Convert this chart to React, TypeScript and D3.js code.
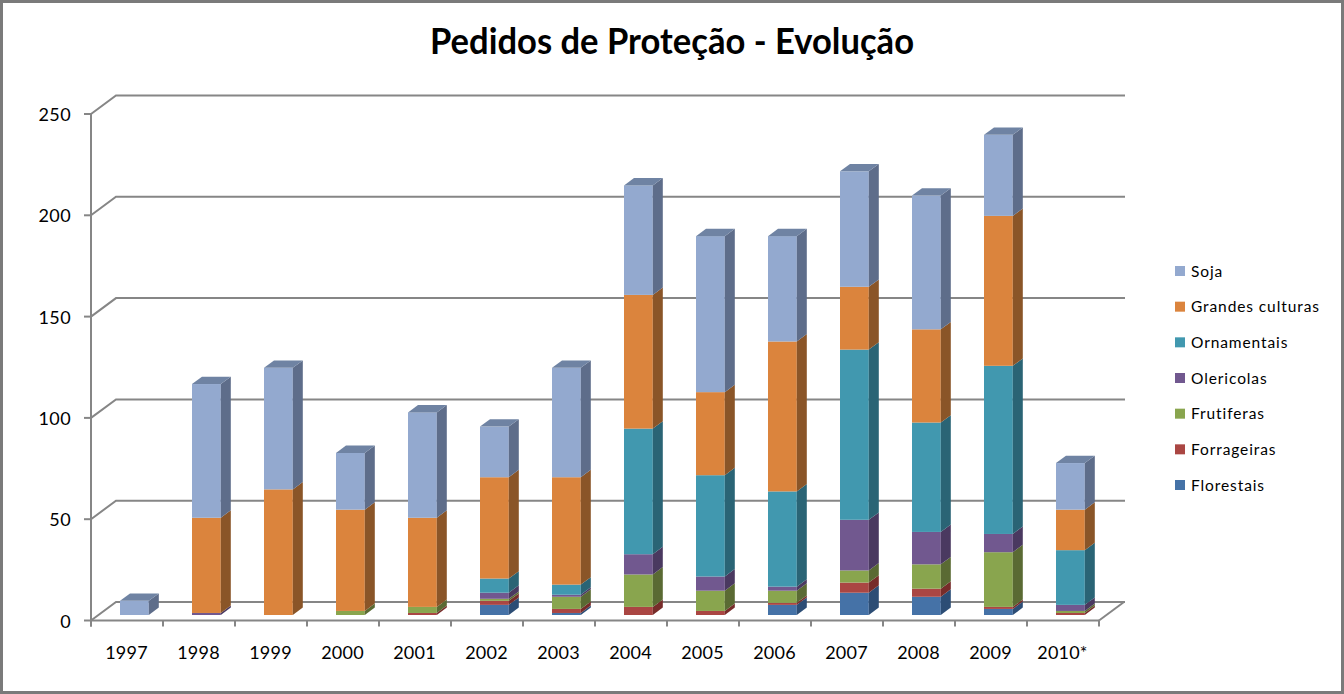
import React from "react";
import * as d3 from "d3";

const categories = ["1997","1998","1999","2000","2001","2002","2003","2004","2005","2006","2007","2008","2009","2010*"];
const seriesNames = ["Florestais","Forrageiras","Frutiferas","Olericolas","Ornamentais","Grandes culturas","Soja"];
const florestais  = [0,0,0,0,0,5,1,0,0,5,11,9,3,0];
const forrageiras = [0,0,0,0,1,2,2,4,2,1,5,4,1,1];
const frutiferas  = [0,0,0,2,3,1,6,16,10,6,6,12,27,1];
const olericolas  = [0,1,0,0,0,3,1,10,7,2,25,16,9,3];
const ornamentais = [0,0,0,0,0,7,5,62,50,47,84,54,83,27];
const grandes     = [0,47,62,50,44,50,53,66,41,74,31,46,74,20];
const soja        = [7,66,60,28,52,25,54,54,77,52,57,66,40,23];
const seriesValues = [florestais,forrageiras,frutiferas,olericolas,ornamentais,grandes,soja];
const frontColors = ["#4572A7","#AA4643","#89A54E","#71588F","#4198AF","#DB843D","#93A9CF"];
const sideColors  = ["#2C4D75","#772C2A","#5A6A33","#4A3960","#2A6475","#8A5528","#5E6D8A"];
const topColors   = ["#3A5F8C","#8E3B38","#738A42","#5F4A78","#37808F","#B86F33","#6F83A3"];
const yTicks = [0,50,100,150,200,250];
const font = "Lato, 'Open Sans', sans-serif";
const gridColor = "#868686";

export default function App() {
  const W = 1344, H = 694;
  const axisFront = d3.scaleLinear().domain([0,250]).range([620.5,114]);
  const wallDX = 25, wallDY = -18.5;
  const x0 = 91, x1 = 1099;
  const tickX = d3.scalePoint<number>().domain(d3.range(15)).range([x0,x1]);
  const slot = d3.scaleBand().domain(categories).range([x0,x1]);
  const bar = d3.scaleBand().domain(categories).range([x0+7.4,x1+7.4]).paddingInner(0.6).paddingOuter(0.3);
  const y = d3.scaleLinear().domain([0,250]).range([615,108.5]);
  const dx = 10, dy = -7.4;
  const stackGen = d3.stack<number>().keys(d3.range(7).map(String)).value((i,k)=>seriesValues[+k][i]);
  const stacked = stackGen(d3.range(categories.length));
  const poly = d3.line();
  const legendY = d3.scalePoint<string>().domain([...seriesNames].reverse()).range([271,485]);

  return (
    <svg width={W} height={H} style={{position:"absolute",left:0,top:0,background:"#fff",fontFamily:font}}>
      <rect x={1.5} y={1.5} width={W-3} height={H-3} fill="#fff" stroke="#7a7a7a" strokeWidth={3}/>
      <text x={672} y={54} textAnchor="middle" fontSize={36} fontWeight={700} fill="#000" textLength={484} lengthAdjust="spacingAndGlyphs">Pedidos de Proteção - Evolução</text>
      <g stroke={gridColor} strokeWidth={2} fill="none">
        {yTicks.map(t => (
          <g key={t}>
            <path d={poly([[x0,axisFront(t)],[x0+wallDX,axisFront(t)+wallDY],[x1+wallDX+1,axisFront(t)+wallDY]])!}/>
            <line x1={x0-7} x2={x0} y1={axisFront(t)} y2={axisFront(t)}/>
          </g>
        ))}
        <line x1={x0} x2={x0} y1={axisFront(250)} y2={axisFront(0)+6}/>
        <line x1={x0} x2={x1} y1={axisFront(0)} y2={axisFront(0)}/>
        <line x1={x1} x2={x1+wallDX} y1={axisFront(0)} y2={axisFront(0)+wallDY}/>
        {tickX.domain().map(i => (
          <line key={i} x1={tickX(i)} x2={tickX(i)} y1={axisFront(0)} y2={axisFront(0)+6}/>
        ))}
      </g>
      {categories.map((c,ci) => {
        const bx = bar(c)!, bw = bar.bandwidth();
        return (
          <g key={c}>
            {stacked.map((s,si) => {
              const [a,b] = s[ci];
              if (b-a <= 0) return null;
              const yb = y(a), yt = y(b);
              const isTop = d3.sum(seriesValues.slice(si+1),v=>v[ci]) === 0;
              return (
                <g key={si}>
                  <rect x={bx} y={yt} width={bw} height={yb-yt} fill={frontColors[si]}/>
                  <path d={poly([[bx+bw,yb],[bx+bw+dx,yb+dy],[bx+bw+dx,yt+dy],[bx+bw,yt]])+"Z"} fill={sideColors[si]}/>
                  {isTop && <path d={poly([[bx,yt],[bx+dx,yt+dy],[bx+bw+dx,yt+dy],[bx+bw,yt]])+"Z"} fill={topColors[si]}/>}
                </g>
              );
            })}
          </g>
        );
      })}
      {yTicks.map(t => (
        <text key={t} x={71} y={axisFront(t)+7} textAnchor="end" fontSize={18} letterSpacing={0.4} fill="#000">{t}</text>
      ))}
      {categories.map(c => (
        <text key={c} x={slot(c)!+slot.bandwidth()/2-0.5} y={659} textAnchor="middle" fontSize={18} letterSpacing={0.2} fill="#000">{c}</text>
      ))}
      {seriesNames.map((n,i) => (
        <g key={n}>
          <rect x={1175} y={legendY(n)!-5} width={10} height={10} fill={frontColors[i]}/>
          <text x={1191} y={legendY(n)!+5.5} fontSize={15.5} letterSpacing={0.9} fill="#000">{n}</text>
        </g>
      ))}
    </svg>
  );
}
